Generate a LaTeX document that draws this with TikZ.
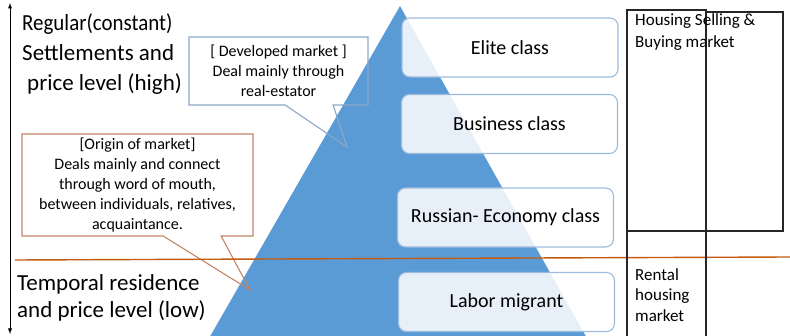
\documentclass[tikz,border=0pt]{standalone}
\usepackage{fontspec}
\setmainfont{Carlito}
\usetikzlibrary{shapes.callouts}

\definecolor{pyrblue}{HTML}{5B9BD5}
\definecolor{boxline}{HTML}{9DBBDD}
\definecolor{devline}{HTML}{8CA7C6}
\definecolor{origline}{HTML}{C28464}
\definecolor{splitline}{HTML}{C55A11}
\definecolor{gridgray}{HTML}{262626}

\begin{document}
\begin{tikzpicture}[
		x=1pt,y=-1pt,
		every node/.style={inner sep=0pt},
		classbox/.style={draw=boxline,line width=1.1pt,rounded corners=8pt,fill=white,
			fill opacity=0.86,text opacity=1,minimum width=216pt,minimum height=59pt,
			font=\fontsize{20}{24}\selectfont},
		note/.style={rectangle callout,align=center,line width=1.1pt,
			font=\fontsize{16}{20}\selectfont},
		gridline/.style={draw=gridgray,line width=1.2pt}
		]
		\useasboundingbox (0,0) rectangle (790,336);
		
		% pyramid
		\fill[pyrblue] (400,6) -- (588,340) -- (208,340) -- cycle;
		
		% callouts
		\node[note,draw=devline,minimum width=179pt,minimum height=68pt,
		callout pointer width=48pt,callout absolute pointer={(347,147)}]
		(devmkt) at (278.5,71) {[ Developed market ]\\Deal mainly through\\real-estator};
		\node[note,draw=origline,minimum width=231pt,minimum height=102pt,
		callout pointer width=58pt,callout absolute pointer={(250,290)}]
		(origmkt) at (137.5,185) {[Origin of market]\\Deals mainly and connect\\through word of mouth,\\between individuals, relatives,\\acquaintance.};
		
		% split line
		\coordinate (splitL) at (15,260);
		\coordinate (splitR) at (790,257);
		\draw[splitline,line width=1.4pt] (splitL) -- (splitR);
		
		% axis
		\coordinate (axtop) at (10,3);
		\coordinate (axbot) at (10,334);
		\draw[latex-latex,line width=0.9pt] (axtop) -- (axbot);
		\node[anchor=north west,align=left,font=\fontsize{23}{30}\selectfont] (high) at (22,13)
		{\scalebox{0.91}[1]{Regular(constant)}\\Settlements and\\\hspace{5pt}price level (high)};
		\node[anchor=north west,align=left,font=\fontsize{23}{27}\selectfont] (low) at (17,274)
		{Temporal residence\\and price level (low)};
		
		% classes
		\node[classbox] (elite) at (510,47.5) {Elite class};
		\node[classbox] (business) at (509.5,124) {Business class};
		\node[classbox] (economy) at (505.5,217.5) {Russian- Economy class};
		\node[classbox] (labor) at (506.5,302) {Labor migrant};
		
		% markets
		\draw[gridline] (627,10) rectangle (706,231);
		\draw[gridline] (706,12) rectangle (783,231);
		\draw[gridline] (627,231) -- (627,340) (706,231) -- (706,340);
		\node[anchor=north west,align=left,font=\fontsize{17}{22}\selectfont] (sale) at (635,14)
		{Housing Selling \&\\Buying market};
		\node[anchor=north west,align=left,font=\fontsize{17}{20.5}\selectfont] (rent) at (635,268)
		{Rental\\housing\\market};
\end{tikzpicture}
\end{document}
